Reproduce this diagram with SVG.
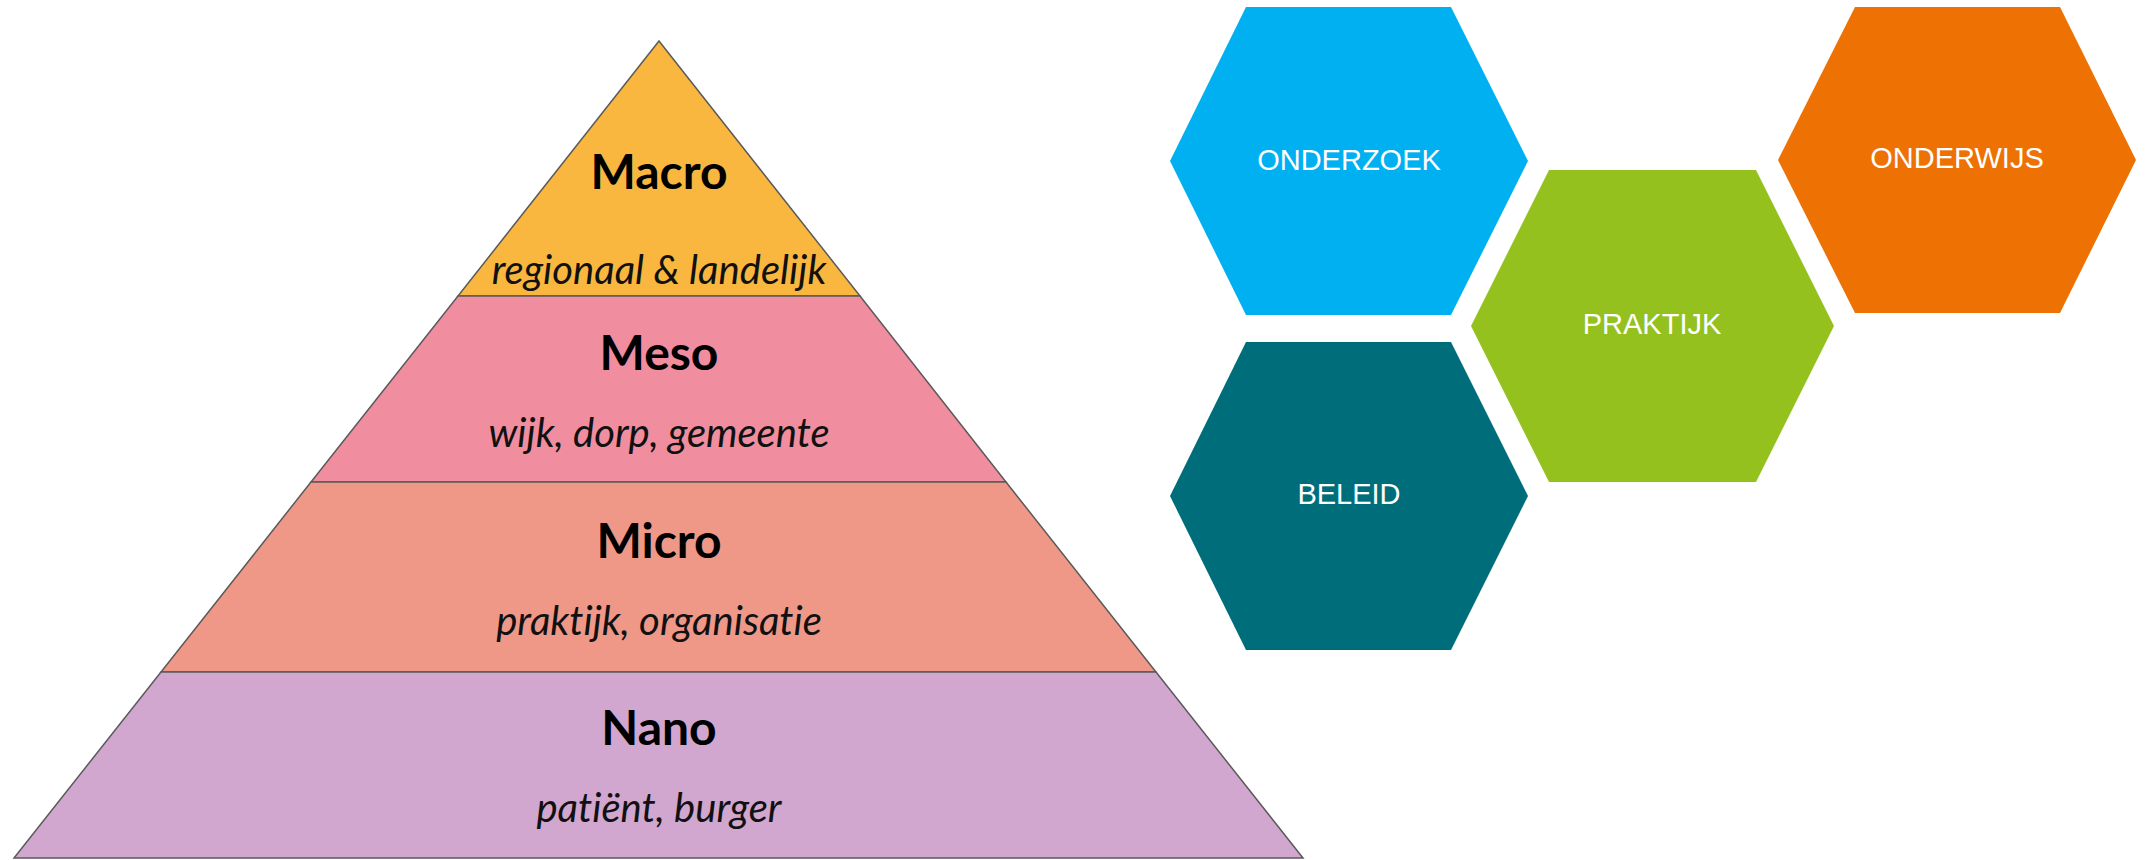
<svg xmlns="http://www.w3.org/2000/svg" width="2149" height="860" viewBox="0 0 2149 860">
  <style>
    .layer { stroke: #5a5a5a; stroke-width: 1.5; stroke-linejoin: miter; }
    .title { font-family: Lato, "Liberation Sans", sans-serif; font-weight: bold; font-size: 48px; fill: #000; text-anchor: middle; }
    .sub { font-family: Lato, "Liberation Sans", sans-serif; font-style: italic; font-size: 40px; fill: #111; text-anchor: middle; font-variant-ligatures: none; }
    .hexlabel { font-family: "Liberation Sans", Arial, sans-serif; font-size: 29px; fill: #ffffff; text-anchor: middle; }
  </style>
  <rect x="0" y="0" width="2149" height="860" fill="#ffffff"/>

  <g id="pyramid">
    <g id="macro">
      <polygon class="layer" points="659,41 860,296 458,296" fill="#F9B740"/>
      <text class="title" x="659" y="189">Macro</text>
      <text class="sub" x="659" y="284">regionaal &amp; landelijk</text>
    </g>
    <g id="meso">
      <polygon class="layer" points="458,296 860,296 1006,482 311,482" fill="#F08D9F"/>
      <text class="title" x="659" y="370">Meso</text>
      <text class="sub" x="659" y="447">wijk, dorp, gemeente</text>
    </g>
    <g id="micro">
      <polygon class="layer" points="311,482 1006,482 1156,672 161,672" fill="#F09888"/>
      <text class="title" x="659" y="558">Micro</text>
      <text class="sub" x="659" y="635">praktijk, organisatie</text>
    </g>
    <g id="nano">
      <polygon class="layer" points="161,672 1156,672 1303,858 14,858" fill="#D1A6CF"/>
      <text class="title" x="659" y="745">Nano</text>
      <text class="sub" x="659" y="822">patiënt, burger</text>
    </g>
  </g>

  <g id="onderzoek">
    <polygon points="1170,161 1246,7 1451,7 1528,161 1451,315 1246,315" fill="#00B0F0"/>
    <text class="hexlabel" x="1349" y="170">ONDERZOEK</text>
  </g>
  <g id="beleid">
    <polygon points="1170,496 1246,342 1451,342 1528,496 1451,650 1246,650" fill="#006E7A"/>
    <text class="hexlabel" x="1349" y="504">BELEID</text>
  </g>
  <g id="praktijk">
    <polygon points="1471,326 1549,170 1756,170 1834,326 1756,482 1549,482" fill="#95C11F"/>
    <text class="hexlabel" x="1652" y="334">PRAKTIJK</text>
  </g>
  <g id="onderwijs">
    <polygon points="1778,160 1855,7 2060,7 2136,160 2060,313 1855,313" fill="#ED7103"/>
    <text class="hexlabel" x="1957" y="168">ONDERWIJS</text>
  </g>

  <g id="connectors"/>
</svg>
